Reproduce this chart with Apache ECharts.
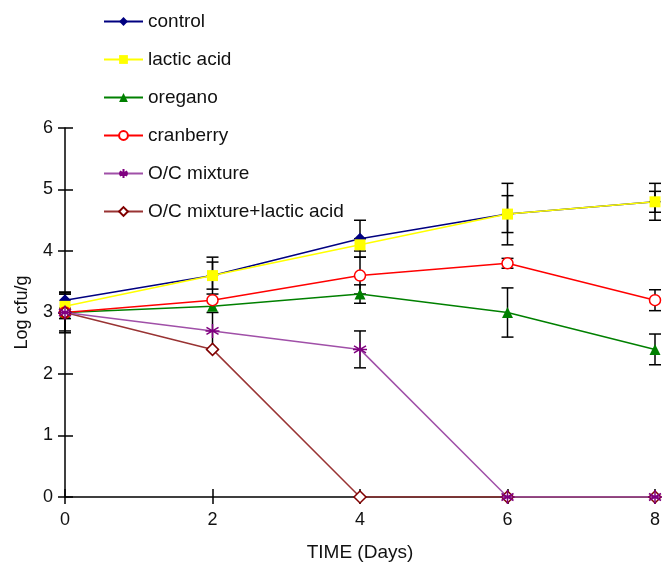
<!DOCTYPE html>
<html>
<head>
<meta charset="utf-8">
<script src="https://cdn.jsdelivr.net/npm/echarts@6/dist/echarts.min.js"></script>
<style>
  html, body { margin: 0; padding: 0; background: #fff; }
  #chart { width: 662px; height: 563px; }
</style>
</head>
<body>
<div id="chart"></div>
<script>
const days = [0, 2, 4, 6, 8]

const control = [3.2, 3.6, 4.2, 4.6, 4.8]
const lacticAcid = [3.1, 3.6, 4.1, 4.6, 4.8]
const oregano = [3.0, 3.1, 3.3, 3.0, 2.4]
const cranberry = [3.0, 3.2, 3.6, 3.8, 3.2]
const ocMixture = [3.0, 2.7, 2.4, 0, 0]
const ocLactic = [3.0, 2.4, 0, 0, 0]

// +/- error per day, null = no visible bar
const controlErr = [0.13, 0.3, 0.3, 0.5, 0.3]
const lacticErr = [0.2, 0.22, 0.1, 0.3, 0.17]
const oreganoErr = [0.3, null, 0.15, 0.4, 0.25]
const cranberryErr = [null, null, 0.3, 0.08, 0.17]
const ocMixtureErr = [0.33, 0.3, 0.3, null, null]

const FONT = '"Liberation Sans", Arial, sans-serif'
const asterisk = 'path://M5,0L5,10M0.7,2.5L9.3,7.5M0.7,7.5L9.3,2.5M0,5L10,5'

function pairs(values) {
  return days.map((d, i) => [d, values[i]])
}

const errorBars = []
;[
  [control, controlErr],
  [lacticAcid, lacticErr],
  [oregano, oreganoErr],
  [cranberry, cranberryErr],
  [ocMixture, ocMixtureErr],
].forEach(([values, errs]) => {
  errs.forEach((e, i) => {
    if (e != null) {
      errorBars.push([days[i], values[i] - e, values[i] + e])
    }
  })
})

function renderErrorBar(params, api) {
  const x = api.value(0)
  const low = api.coord([x, api.value(1)])
  const high = api.coord([x, api.value(2)])
  const cap = 6
  const style = { stroke: '#000', lineWidth: 1.5 }
  return {
    type: 'group',
    children: [
      { type: 'line', shape: { x1: low[0], y1: low[1], x2: high[0], y2: high[1] }, style },
      { type: 'line', shape: { x1: low[0] - cap, y1: low[1], x2: low[0] + cap, y2: low[1] }, style },
      { type: 'line', shape: { x1: high[0] - cap, y1: high[1], x2: high[0] + cap, y2: high[1] }, style },
    ],
  }
}

function lineSeries(name, values, color, symbol, symbolSize, itemStyle) {
  return {
    name,
    type: 'line',
    data: pairs(values),
    symbol,
    symbolSize,
    showAllSymbol: true,
    lineStyle: { color, width: 1.5 },
    itemStyle: Object.assign({ color, opacity: 1 }, itemStyle || {}),
    emphasis: { disabled: true },
    z: 3,
  }
}

const chart = echarts.init(document.getElementById('chart'))

const axisLineStyle = { color: '#000', width: 1.5 }

chart.setOption({
  animation: false,
  backgroundColor: '#fff',
  textStyle: { fontFamily: FONT },
  grid: { left: 65, right: 7, top: 128, bottom: 66, containLabel: false, outerBoundsMode: 'none' },
  legend: {
    orient: 'vertical',
    left: 98,
    top: 7,
    itemWidth: 39,
    itemHeight: 11,
    itemGap: 19,
    data: ['control', 'lactic acid', 'oregano', 'cranberry', 'O/C mixture', 'O/C mixture+lactic acid'],
    textStyle: { fontFamily: FONT, fontSize: 19, color: '#111' },
  },
  xAxis: [
    {
      type: 'value',
      min: 0,
      max: 8,
      interval: 2,
      name: 'TIME (Days)',
      nameLocation: 'middle',
      nameGap: 46,
      nameTextStyle: { fontFamily: FONT, fontSize: 19, color: '#111' },
      axisLine: { lineStyle: axisLineStyle },
      axisTick: { show: true, length: 7, lineStyle: axisLineStyle },
      axisLabel: { fontFamily: FONT, fontSize: 18, color: '#111', margin: 14 },
      splitLine: { show: false },
    },
    {
      type: 'value',
      min: 0,
      max: 8,
      interval: 2,
      position: 'bottom',
      axisLine: { show: false },
      axisTick: { show: true, inside: true, length: 8, lineStyle: axisLineStyle },
      axisLabel: { show: false },
      splitLine: { show: false },
    },
  ],
  yAxis: [
    {
      type: 'value',
      min: 0,
      max: 6,
      interval: 1,
      name: 'Log cfu/g',
      nameLocation: 'middle',
      nameGap: 34,
      nameTextStyle: { fontFamily: FONT, fontSize: 18, color: '#111' },
      axisLine: { show: true, lineStyle: axisLineStyle },
      axisTick: { show: true, length: 7, lineStyle: axisLineStyle },
      axisLabel: { fontFamily: FONT, fontSize: 18, color: '#111', margin: 12 },
      splitLine: { show: false },
    },
    {
      type: 'value',
      min: 0,
      max: 6,
      interval: 1,
      position: 'left',
      axisLine: { show: false },
      axisTick: { show: true, inside: true, length: 8, lineStyle: axisLineStyle },
      axisLabel: { show: false },
      splitLine: { show: false },
    },
  ],
  series: [
    {
      type: 'custom',
      renderItem: renderErrorBar,
      data: errorBars,
      encode: { x: 0, y: [1, 2] },
      silent: true,
      z: 2,
    },
    lineSeries('control', control, '#000080', 'diamond', 12),
    lineSeries('lactic acid', lacticAcid, '#ffff00', 'rect', 11),
    lineSeries('oregano', oregano, '#008000', 'triangle', 11),
    lineSeries('cranberry', cranberry, '#ff0000', 'circle', 11, { color: '#fff', borderColor: '#ff0000', borderWidth: 1.5 }),
    lineSeries('O/C mixture+lactic acid', ocLactic, '#993333', 'diamond', 12, { color: '#fff', borderColor: '#800000', borderWidth: 1.5 }),
    lineSeries('O/C mixture', ocMixture, '#a050a8', asterisk, 14, { color: 'rgba(0,0,0,0)', borderColor: '#800080', borderWidth: 1.5 }),
  ],
})
</script>
</body>
</html>
